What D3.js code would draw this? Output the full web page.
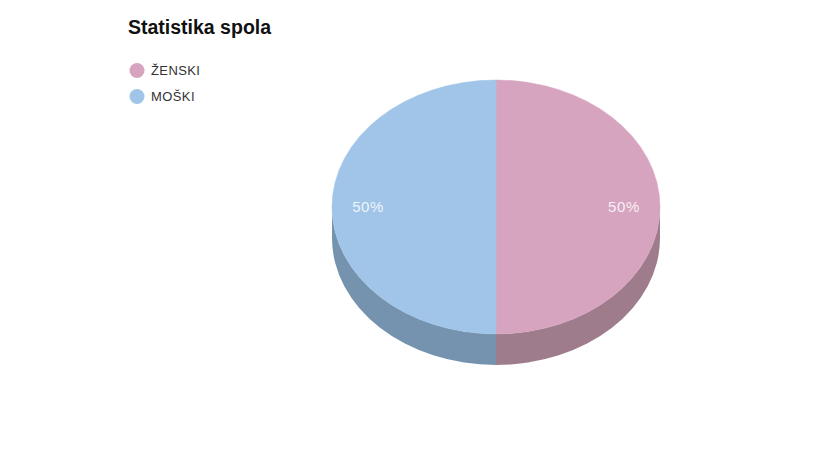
<!DOCTYPE html>
<html><head><meta charset="utf-8">
<script src="https://cdnjs.cloudflare.com/ajax/libs/d3/7.8.5/d3.min.js"></script>
<style>body{margin:0;background:#fff}svg{display:block}</style>
</head><body>
<script>
const title = "Statistika spola";
const categories = ["ŽENSKI", "MOŠKI"];
const values = [50, 50];
const colors = ["#d7a4bf", "#a0c5e8"];
const sideColors = ["#9e7c8c", "#7592ae"];

const W = 815, H = 474;
const svg = d3.select("body").append("svg").attr("width", W).attr("height", H);
const font = "'Liberation Sans', Arial, Helvetica, sans-serif";

svg.append("text").attr("x", 128).attr("y", 33.5).text(title)
  .attr("font-family", font).attr("font-weight", "bold").attr("font-size", 19.5).attr("fill", "#111");

const leg = svg.selectAll("g.leg").data(categories).enter().append("g")
  .attr("transform", (d, i) => `translate(137,${70.5 + i * 26})`);
leg.append("circle").attr("r", 7.5).attr("fill", (d, i) => colors[i]);
leg.append("text").attr("x", 14).attr("y", 4.7).text(d => d)
  .attr("font-family", font).attr("font-size", 13).attr("fill", "#333")
  .attr("letter-spacing", 0.4);

const cx = 496, cy = 207, rx = 164, ry = 127, depth = 31;
const pie = d3.pie().sort(null).value(d => d)(values);
const pt = (a, dy = 0) => [cx + rx * Math.sin(a), cy - ry * Math.cos(a) + dy];

// sides (front-facing portion: angles between PI/2 and 3PI/2)
const sides = svg.append("g");
pie.forEach((p, i) => {
  const a0 = Math.max(p.startAngle, Math.PI / 2), a1 = Math.min(p.endAngle, 3 * Math.PI / 2);
  if (a1 <= a0) return;
  const s0 = pt(a0), s1 = pt(a1), b0 = pt(a0, depth), b1 = pt(a1, depth);
  const d = `M${s0}A${rx},${ry} 0 0 1 ${s1}L${b1}A${rx},${ry} 0 0 0 ${b0}Z`;
  sides.append("path").attr("d", d).attr("fill", sideColors[i]);
});

const tops = svg.append("g");
pie.forEach((p, i) => {
  const s0 = pt(p.startAngle), s1 = pt(p.endAngle);
  const large = p.endAngle - p.startAngle > Math.PI ? 1 : 0;
  tops.append("path").attr("d", `M${cx},${cy}L${s0}A${rx},${ry} 0 ${large} 1 ${s1}Z`)
    .attr("fill", colors[i]).attr("stroke", colors[i]).attr("stroke-width", 0.5);
});

const total = d3.sum(values);
pie.forEach((p, i) => {
  const mid = (p.startAngle + p.endAngle) / 2;
  const k = 0.78;
  const x = cx + rx * k * Math.sin(mid);
  const y = cy - ry * k * Math.cos(mid);
  svg.append("text").attr("x", x).attr("y", y + 5.3).attr("text-anchor", "middle")
    .text(Math.round(p.value / total * 100) + "%")
    .attr("font-family", font).attr("font-size", 15).attr("letter-spacing", 0.6)
    .attr("fill", "#fff").attr("fill-opacity", 0.85);
});
</script>
</body></html>
